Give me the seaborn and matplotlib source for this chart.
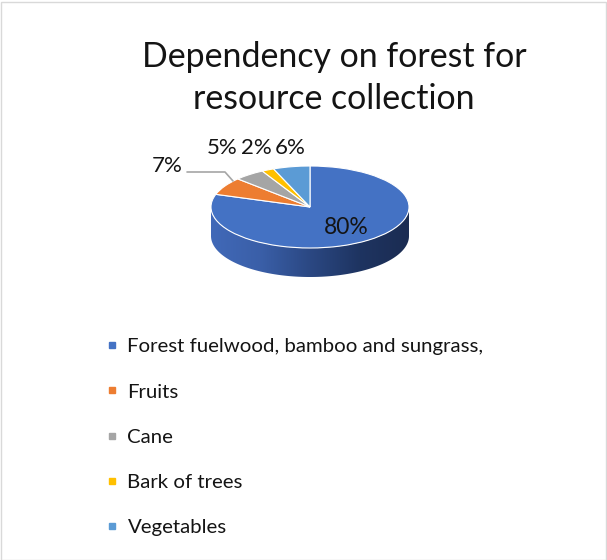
import numpy as np
import pandas as pd
import seaborn as sns
import matplotlib
matplotlib.use("Agg")
import matplotlib.pyplot as plt
from matplotlib.patches import Polygon, Rectangle
from matplotlib.lines import Line2D
from matplotlib.colors import LinearSegmentedColormap

categories = ["Forest fuelwood, bamboo and sungrass,", "Fruits", "Cane",
              "Bark of trees", "Vegetables"]
shares = [80, 7, 5, 2, 6]
pct_labels = ["80%", "7%", "5%", "2%", "6%"]
colors = ["#4472C4", "#ED7D31", "#A5A5A5", "#FFC000", "#5B9BD5"]

df = pd.DataFrame({"category": categories, "share": shares,
                   "label": pct_labels, "color": colors})

sns.set_theme(style="white")
plt.rcParams["font.family"] = ["Lato", "DejaVu Sans"]
TEXT = "#141414"

W, H = 607, 560
fig = plt.figure(figsize=(W / 100, H / 100), dpi=100)
fig.patch.set_facecolor("white")


def px_axes(x0, y0, x1, y1):
    return fig.add_axes([x0 / W, 1 - y1 / H, (x1 - x0) / W, (y1 - y0) / H])


def fx(x):
    return x / W


def fy(y):
    return 1 - y / H


# chart frame
fig.patches.append(Rectangle((0.5 / W, 0.5 / H), (W - 2) / W, (H - 2) / H,
                             transform=fig.transFigure, fill=False,
                             edgecolor="#D9D9D9", linewidth=1.0))

# title
fig.text(fx(334), fy(78), "Dependency on forest for\nresource collection",
         ha="center", va="center", fontsize=24.4, color=TEXT, linespacing=1.4)

# pie geometry (pixels)
cx, cy, rx, ry, depth = 310, 207, 99, 41, 29
x0, y0, x1, y1 = 150, 120, 470, 300
ax = px_axes(x0, y0, x1, y1)

wedges, _ = ax.pie(df["share"], colors=df["color"], startangle=90,
                   counterclock=False, radius=1, center=(0, 0),
                   wedgeprops=dict(edgecolor="white", linewidth=0.8))
for w in wedges:
    w.set_zorder(3)

# side wall of the disc (front half)
d = depth / ry
t = np.linspace(np.pi, 2 * np.pi, 200)
top = np.column_stack([np.cos(t), np.sin(t)])
bot = np.column_stack([np.cos(t[::-1]), np.sin(t[::-1]) - d])
side = Polygon(np.vstack([top, bot]), closed=True, facecolor="none",
               edgecolor="none", zorder=2)
ax.add_patch(side)
cmap = LinearSegmentedColormap.from_list(
    "side", ["#4169B8", "#3A5FA8", "#2B4883", "#1E3461", "#1B2C52"])
grad = np.linspace(0, 1, 256).reshape(1, -1)
im = ax.imshow(grad, cmap=cmap, extent=[-1, 1, -1 - d, 0.05], aspect="auto",
               zorder=2, interpolation="bicubic")
im.set_clip_path(side)

ax.set_aspect("auto")
ax.set_xlim((x0 - cx) / rx, (x1 - cx) / rx)
ax.set_ylim(-(y1 - cy) / ry, (cy - y0) / ry)
ax.axis("off")

# percentage labels
ends = 90 - 360 * np.cumsum(df["share"]) / df["share"].sum()
starts = np.concatenate([[90], ends[:-1]])
mid0 = np.deg2rad((starts[0] + ends.iloc[0]) / 2)
ax.text(0.62 * np.cos(mid0), 0.62 * np.sin(mid0), df["label"][0], ha="center",
        va="center", fontsize=16.5, color=TEXT, zorder=5)

out_pos = {1: (167, 166), 2: (222, 148), 3: (256, 148), 4: (290, 148)}
for i, (px, py) in out_pos.items():
    fig.text(fx(px), fy(py), df["label"][i], ha="center", va="center",
             fontsize=16, color=TEXT)

# leader line for the small orange slice
fig.add_artist(Line2D([fx(187), fx(225), fx(233)], [fy(172), fy(172), fy(181)],
                      transform=fig.transFigure, color="#A6A6A6", linewidth=1.2))

# legend
handles = [Line2D([], [], marker="s", linestyle="none", markersize=5,
                  markerfacecolor=c, markeredgecolor=c) for c in colors]
fig.legend(handles, categories, loc="upper left",
           bbox_to_anchor=(fx(106), fy(338)), frameon=False, fontsize=14.7,
           handlelength=0.55, handletextpad=0.5, labelspacing=1.37,
           labelcolor=TEXT, borderaxespad=0, borderpad=0)

fig.savefig("out.png", dpi=100)
